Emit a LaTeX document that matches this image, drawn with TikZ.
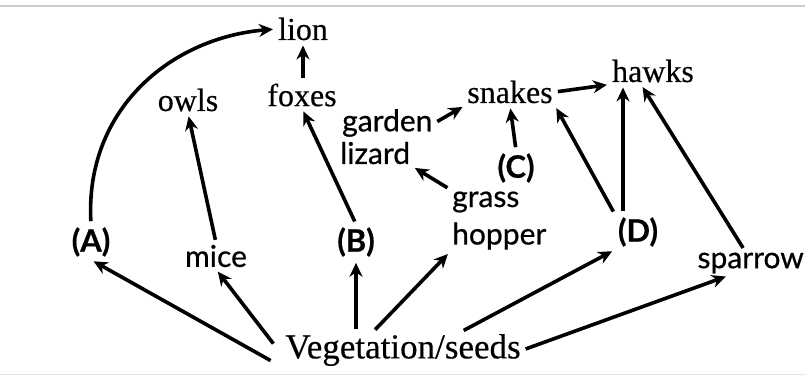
\documentclass[tikz,border=0pt]{standalone}
\usepackage{fontspec}
\setmainfont{Liberation Serif}[FakeBold=0.4]
\newfontfamily\sansf{Lato}[FakeBold=0.6]
\newfontfamily\sansb{Lato Bold}[FakeBold=0.6]
\usetikzlibrary{arrows.meta}
\tikzset{
  serifl/.style={font=\fontsize{32}{34}\selectfont, inner sep=2pt},
  sansl/.style={font=\sansf\fontsize{30}{34}\selectfont, inner sep=2pt, align=left},
  boldl/.style={font=\sansb\fontsize{31}{34}\selectfont, inner sep=3pt},
  arr/.style={line width=3.6pt, shorten <=3pt, shorten >=3pt, -{Stealth[length=14pt,width=13pt]}},
}
\begin{document}
\begin{tikzpicture}[x=1pt,y=-1pt]
\useasboundingbox (0,0) rectangle (805,376);
\draw[gray!40, line width=2pt] (0,6) -- (805,6);
\draw[gray!20, line width=1pt] (0,374) -- (805,374);
% nodes
\node[serifl] (lion) at (303,29) {lion};
\node[serifl] (owls) at (188,100) {owls};
\node[serifl] (foxes) at (302,95) {foxes};
\node[sansl, anchor=west] (garden) at (340,123) {garden};
\node[sansl, anchor=west] (lizard) at (338,153) {lizard};
\node[serifl] (snakes) at (510,92) {snakes};
\node[serifl] (hawks) at (653,71) {hawks};
\node[boldl] (C) at (516,168) {(C)};
\node[sansl, anchor=west] (grass) at (450,202) {grass};
\node[sansl, anchor=west] (hopper) at (450,236) {hopper};
\node[boldl] (D) at (638,232) {(D)};
\node[boldl] (A) at (91,242) {(A)};
\node[sansl] (mice) at (216,256) {mice};
\node[boldl] (B) at (356,242) {(B)};
\node[sansl, anchor=east] (sparrow) at (806,263) {sparrow};
\node[serifl, font=\fontsize{35}{38}\selectfont] (veg) at (403,350) {Vegetation/seeds};
% connectors
\draw[arr] (A.north) .. controls (85,110) and (170,38) .. (lion.west);
\draw[arr] (foxes.north -| lion.south) -- (lion.south);
\draw[arr] (mice.north) -- (owls.south);
\draw[arr] (B.north) -- (foxes.south);
\draw[arr] (garden.east) -- (snakes.south west);
\draw[arr] (snakes.east) -- (hawks.south west);
\draw[arr] (C.north) -- (snakes.south);
\draw[arr] (D.north west) -- (snakes.south east);
\coordinate (d1) at ([xshift=-30pt]hawks.south);
\draw[arr] (D.north -| d1) -- (d1);
\draw[arr] ([xshift=-6pt]sparrow.north) -- ([xshift=-12pt]hawks.south);
\draw[arr] (grass.north west) -- (lizard.south east);
\draw[arr] ([xshift=-10pt,yshift=-12pt]veg.west) -- (A.south);
\draw[arr] ([xshift=-8pt,yshift=4pt]veg.west) -- (mice.south);
\draw[arr] (veg.north -| B) -- (B.south);
\draw[arr] ([xshift=-30pt]veg.north) -- (hopper.south west);
\draw[arr] ([xshift=58pt]veg.north) -- (D.south west);
\draw[arr] (veg.east) -- ([xshift=-22pt]sparrow.south);
\end{tikzpicture}
\end{document}
